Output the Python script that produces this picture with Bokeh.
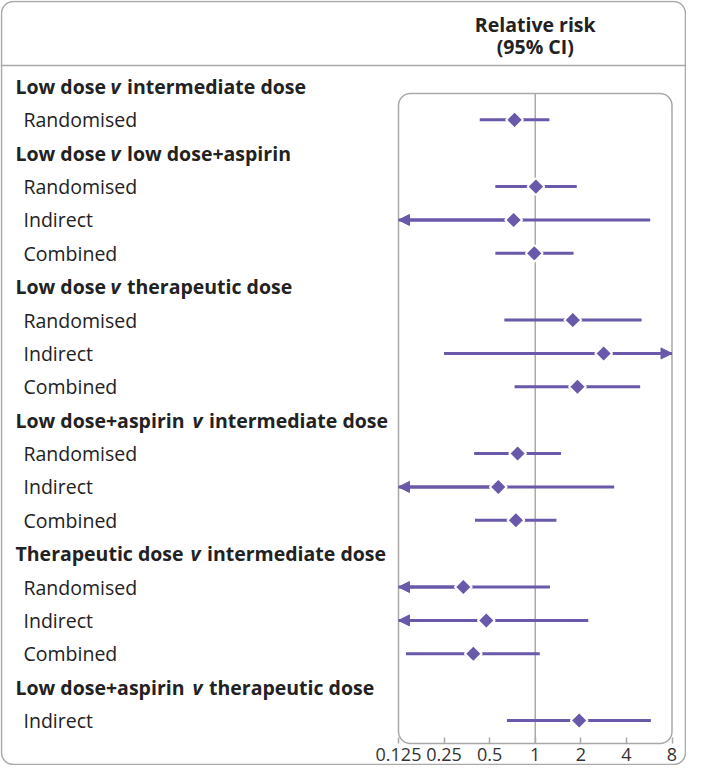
import math
from bokeh.plotting import figure
from bokeh.models import (Range1d, LogScale, LogAxis, FixedTicker, ColumnDataSource,
                          BoxAnnotation, Arrow, NormalHead)
from bokeh.core.properties import value
from bokeh.embed import file_html
from bokeh.resources import INLINE

# ---------------- data ----------------
comparison_left = ["Low dose", "Low dose", "Low dose", "Low dose+aspirin",
                   "Therapeutic dose", "Low dose+aspirin"]
comparison_right = ["intermediate dose", "low dose+aspirin", "therapeutic dose",
                    "intermediate dose", "intermediate dose", "therapeutic dose"]
estimate_group = [0, 1, 1, 1, 2, 2, 2, 3, 3, 3, 4, 4, 4, 5]
estimate_type = ["Randomised",
                 "Randomised", "Indirect", "Combined",
                 "Randomised", "Indirect", "Combined",
                 "Randomised", "Indirect", "Combined",
                 "Randomised", "Indirect", "Combined",
                 "Indirect"]
relative_risk = [0.73, 1.01, 0.72, 0.985, 1.77, 2.83, 1.90, 0.765, 0.57, 0.745,
                 0.335, 0.475, 0.39, 1.95]
ci_lower = [0.43, 0.545, 0.09, 0.545, 0.625, 0.25, 0.73, 0.395, 0.10, 0.40,
            0.08, 0.10, 0.14, 0.65]
ci_upper = [1.24, 1.88, 5.74, 1.79, 5.04, 30.0, 4.93, 1.48, 3.32, 1.38,
            1.25, 2.24, 1.07, 5.8]
tick_values = [0.125, 0.25, 0.5, 1, 2, 4, 8]
tick_labels = ["0.125", "0.25", "0.5", "1", "2", "4", "8"]
title_lines = ["Relative risk", "(95% CI)"]

# ---------------- layout / style ----------------
W, H = 686, 765
PURPLE = "#6a58aa"
GREY = "#a9a9a9"
TEXT = "#222222"
FONT = value("Open Sans")
FS = "19.5px"
ROW0, ROW_STEP = 86.0, 33.37   # first row centre and row pitch (px)
AX_LO_PX, AX_HI_PX = 398.0, 671.5   # pixel positions of 0.125 and 8
BOX_TOP, BOX_BOTTOM = 93.0, 743.0
HEADER_LINE_Y = 65.0
LABEL_X, SUB_X = 15.0, 23.0
V_X = {"Low dose": 110.0, "Low dose+aspirin": 192.0, "Therapeutic dose": 190.0}
V_GAP = 16.5

# data ranges in canvas pixel units
x0p, x1p = 0, W
y0p, y1p = 0, H
k = math.log2(tick_values[-1] / tick_values[0]) / (AX_HI_PX - AX_LO_PX)
rr_start = tick_values[0] * 2 ** (-(AX_LO_PX - x0p) * k)
rr_end = tick_values[-1] * 2 ** ((x1p - AX_HI_PX) * k)

p = figure(width=W, height=H, output_backend="svg", toolbar_location=None,
           x_range=Range1d(x0p, x1p), y_range=Range1d(y1p, y0p),
           x_axis_type=None, y_axis_type=None,
           min_border=0, min_border_left=0, min_border_right=0,
           min_border_top=0, min_border_bottom=0)
p.outline_line_color = None
p.grid.visible = False
p.background_fill_color = "white"
p.border_fill_color = "white"
p.extra_x_ranges = {"rr": Range1d(rr_start, rr_end)}
p.extra_x_scales = {"rr": LogScale()}

# outer rounded border
p.add_layout(BoxAnnotation(left=x0p + 1, right=x1p - 1, top=y0p + 1, bottom=y1p - 1,
                           fill_color=None, line_color=GREY, line_alpha=1.0,
                           line_width=1.5, border_radius=12, level="underlay"))
# header separator
p.segment(x0=[x0p], x1=[x1p], y0=[HEADER_LINE_Y], y1=[HEADER_LINE_Y],
          line_color=GREY, line_width=1.5)
# inner plot box
p.add_layout(BoxAnnotation(left=tick_values[0], right=tick_values[-1],
                           top=BOX_TOP, bottom=BOX_BOTTOM, x_range_name="rr",
                           fill_color=None, line_color=GREY, line_alpha=1.0,
                           line_width=1.5, border_radius=12, level="underlay"))
# line of no effect
p.segment(x0=[1], x1=[1], y0=[BOX_TOP], y1=[BOX_BOTTOM], x_range_name="rr",
          line_color=GREY, line_width=1.5)

# title
p.text(x=[1, 1], y=[24, 46], text=title_lines, x_range_name="rr",
       text_font=FONT, text_font_size=FS, text_font_style="bold",
       text_align="center", text_baseline="middle", text_color=TEXT)

# rows
row = 0
hdr_y, hdr_a, hdr_v_x, hdr_b, hdr_b_x = [], [], [], [], []
est_y = []
for g in range(len(comparison_left)):
    y = ROW0 + row * ROW_STEP
    hdr_y.append(y)
    hdr_a.append(comparison_left[g])
    vx = V_X[comparison_left[g]]
    hdr_v_x.append(vx)
    hdr_b.append(comparison_right[g])
    hdr_b_x.append(vx + V_GAP)
    row += 1
    for i, eg in enumerate(estimate_group):
        if eg == g:
            est_y.append(ROW0 + row * ROW_STEP)
            row += 1

p.text(x=[LABEL_X] * len(hdr_y), y=hdr_y, text=hdr_a, text_font=FONT,
       text_font_size=FS, text_font_style="bold", text_align="left",
       text_baseline="middle", text_color=TEXT)
p.text(x=hdr_v_x, y=hdr_y, text=["v"] * len(hdr_y), text_font=FONT,
       text_font_size=FS, text_font_style="bold italic", text_align="left",
       text_baseline="middle", text_color=TEXT)
p.text(x=hdr_b_x, y=hdr_y, text=hdr_b, text_font=FONT,
       text_font_size=FS, text_font_style="bold", text_align="left",
       text_baseline="middle", text_color=TEXT)
p.text(x=[SUB_X] * len(est_y), y=est_y, text=estimate_type, text_font=FONT,
       text_font_size=FS, text_font_style="normal", text_align="left",
       text_baseline="middle", text_color=TEXT)

lo_c = [max(v, tick_values[0]) for v in ci_lower]
hi_c = [min(v, tick_values[-1]) for v in ci_upper]
src = ColumnDataSource(dict(y=est_y, rr=relative_risk, lo=lo_c, hi=hi_c))

# arrows for clipped intervals (drawn under the glyphs)
ar_x0, ar_x1, ar_y = [], [], []
for i in range(len(est_y)):
    if ci_lower[i] < tick_values[0]:
        ar_x0.append(relative_risk[i]); ar_x1.append(tick_values[0]); ar_y.append(est_y[i])
    if ci_upper[i] > tick_values[-1]:
        ar_x0.append(relative_risk[i]); ar_x1.append(tick_values[-1]); ar_y.append(est_y[i])
arrow_src = ColumnDataSource(dict(x0=ar_x0, x1=ar_x1, y=ar_y))
p.add_layout(Arrow(end=NormalHead(size=11, fill_color=PURPLE, line_color=PURPLE, line_width=1),
                   x_start="x0", x_end="x1", y_start="y", y_end="y", source=arrow_src,
                   x_range_name="rr", line_color=PURPLE, line_width=3, level="underlay"))

p.segment(x0="lo", x1="hi", y0="y", y1="y", source=src, x_range_name="rr",
          line_color=PURPLE, line_width=3)
p.scatter(x="rr", y="y", source=src, x_range_name="rr", marker="square",
          angle=math.pi / 4, size=12, fill_color=PURPLE, line_color="white",
          line_width=2)

# axis
ax = LogAxis(x_range_name="rr", ticker=FixedTicker(ticks=tick_values),
             fixed_location=BOX_BOTTOM)
ax.major_label_overrides = {t: l for t, l in zip(tick_values, tick_labels)}
ax.axis_line_color = None
ax.major_tick_in = 6
ax.major_tick_out = 0
ax.major_tick_line_color = GREY
ax.major_tick_line_width = 1.5
ax.minor_tick_line_color = None
ax.major_label_text_font = "Open Sans"
ax.major_label_text_font_size = "18px"
ax.major_label_text_color = "#333333"
ax.major_label_standoff = 4
p.add_layout(ax, "below")

open("out.html", "w").write(file_html(p, INLINE))
